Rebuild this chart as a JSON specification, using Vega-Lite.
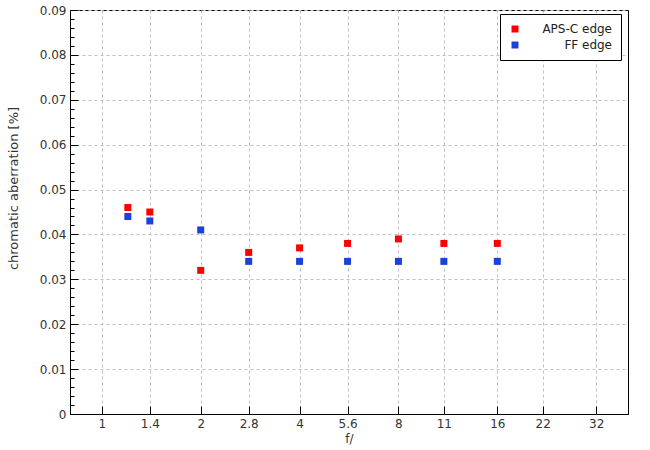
{
  "$schema": "https://vega.github.io/schema/vega-lite/v6.json",
  "width": 558,
  "height": 404,
  "autosize": "none",
  "padding": {"left": 70, "top": 10, "right": 22, "bottom": 36},
  "background": "white",
  "config": {
    "view": {"stroke": "black", "strokeWidth": 1},
    "font": "DejaVu Sans",
    "axis": {
      "labelFont": "DejaVu Sans",
      "labelFontSize": 12,
      "labelColor": "#333333",
      "titleFont": "DejaVu Sans",
      "titleFontSize": 12,
      "titleFontWeight": "normal",
      "titleColor": "#333333",
      "domainColor": "black",
      "tickColor": "black",
      "gridColor": "#c0c0c0",
      "gridDash": [3, 3],
      "gridWidth": 1,
      "labelOverlap": false,
      "labelFlush": false
    },
    "legend": {
      "labelFont": "DejaVu Sans",
      "labelFontSize": 12,
      "labelColor": "#222222"
    }
  },
  "data": {
    "values": [
      {"f": 1.2, "ca": 0.046, "series": "APS-C edge"},
      {"f": 1.4, "ca": 0.045, "series": "APS-C edge"},
      {"f": 2, "ca": 0.032, "series": "APS-C edge"},
      {"f": 2.8, "ca": 0.036, "series": "APS-C edge"},
      {"f": 4, "ca": 0.037, "series": "APS-C edge"},
      {"f": 5.6, "ca": 0.038, "series": "APS-C edge"},
      {"f": 8, "ca": 0.039, "series": "APS-C edge"},
      {"f": 11, "ca": 0.038, "series": "APS-C edge"},
      {"f": 16, "ca": 0.038, "series": "APS-C edge"},
      {"f": 1.2, "ca": 0.044, "series": "FF edge"},
      {"f": 1.4, "ca": 0.043, "series": "FF edge"},
      {"f": 2, "ca": 0.041, "series": "FF edge"},
      {"f": 2.8, "ca": 0.034, "series": "FF edge"},
      {"f": 4, "ca": 0.034, "series": "FF edge"},
      {"f": 5.6, "ca": 0.034, "series": "FF edge"},
      {"f": 8, "ca": 0.034, "series": "FF edge"},
      {"f": 11, "ca": 0.034, "series": "FF edge"},
      {"f": 16, "ca": 0.034, "series": "FF edge"}
    ]
  },
  "layer": [
    {
      "mark": {"type": "point", "shape": "square", "filled": true, "size": 49, "opacity": 1, "strokeWidth": 0},
      "encoding": {
        "x": {
          "field": "f",
          "type": "quantitative",
          "scale": {"type": "log", "domain": [0.8, 40], "nice": false},
          "axis": {
            "values": [1, 1.4, 2, 2.8, 4, 5.6, 8, 11, 16, 22, 32],
            "format": "~g",
            "title": "f/",
            "tickSize": -8,
            "labelPadding": 12,
            "titlePadding": 4,
            "grid": true
          }
        },
        "y": {
          "field": "ca",
          "type": "quantitative",
          "scale": {"domain": [0, 0.09], "nice": false, "zero": true},
          "axis": {
            "values": [0, 0.01, 0.02, 0.03, 0.04, 0.05, 0.06, 0.07, 0.08, 0.09],
            "format": "~g",
            "title": "chromatic aberration [%]",
            "titleFontSize": 13,
            "orient": "left",
            "tickSize": -8,
            "labelPadding": 12,
            "titleX": -57,
            "titleY": 178,
            "titleAngle": -90,
            "titleAlign": "center",
            "titleBaseline": "middle",
            "grid": true
          }
        },
        "color": {
          "field": "series",
          "type": "nominal",
          "scale": {"domain": ["APS-C edge", "FF edge"], "range": ["#ff0000", "#1a40e0"]},
          "legend": {
            "title": null,
            "orient": "none",
            "legendX": 430,
            "legendY": 4,
            "padding": 9,
            "rowPadding": 4,
            "strokeColor": "black",
            "fillColor": "white",
            "cornerRadius": 0,
            "symbolType": "square",
            "symbolSize": 49,
            "symbolStrokeWidth": 0,
            "labelAlign": "right",
            "labelOffset": 91
          }
        }
      }
    },
    {
      "mark": {"type": "point", "opacity": 0},
      "encoding": {
        "y": {
          "field": "ca",
          "type": "quantitative",
          "axis": {
            "orient": "left",
            "values": [0, 0.002, 0.004, 0.006, 0.008, 0.01, 0.012, 0.014, 0.016, 0.018, 0.02, 0.022, 0.024, 0.026, 0.028, 0.03, 0.032, 0.034, 0.036, 0.038, 0.04, 0.042, 0.044, 0.046, 0.048, 0.05, 0.052, 0.054, 0.056, 0.058, 0.06, 0.062, 0.064, 0.066, 0.068, 0.07, 0.072, 0.074, 0.076, 0.078, 0.08, 0.082, 0.084, 0.086, 0.088, 0.09],
            "labels": false,
            "grid": false,
            "domain": false,
            "tickSize": -4,
            "title": null
          }
        }
      }
    }
  ],
  "resolve": {"axis": {"y": "independent"}}
}
